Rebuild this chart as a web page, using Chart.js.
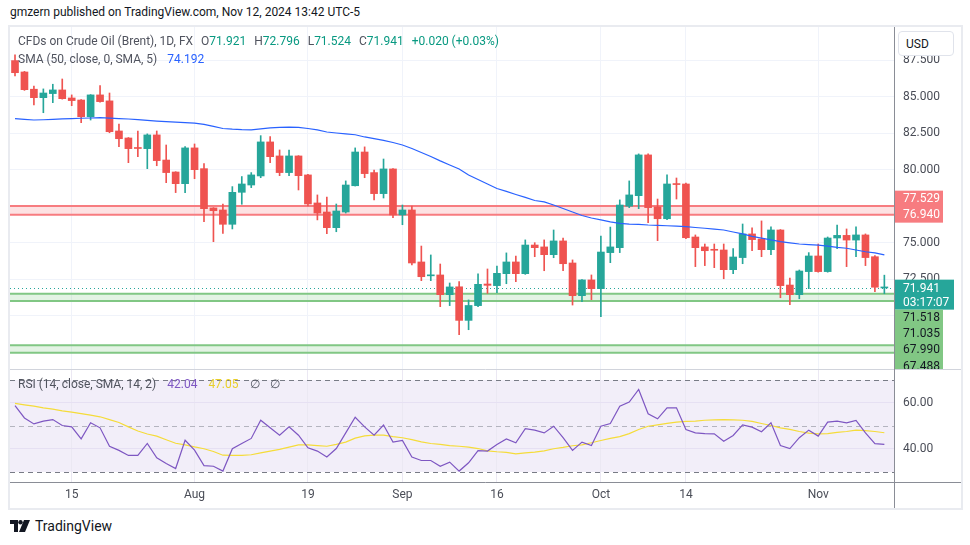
<!DOCTYPE html>
<html>
<head>
<meta charset="utf-8">
<script src="https://cdn.jsdelivr.net/npm/chart.js@4.4.1/dist/chart.umd.min.js"></script>
<style>
  body { margin: 0; background: #fff; width: 970px; height: 545px; position: relative; overflow: hidden; font-family: Roboto, "Noto Sans", sans-serif; }
  .abs { position: absolute; }
  #header { left: 10px; top: 5px; font-size: 12px; color: #131722; white-space: nowrap; }
  #frame { left: 8px; top: 25px; width: 951px; height: 481px; border: 2px solid #e9ebf0; }
  #mainWrap { left: 10px; top: 27px; width: 951px; height: 342px; }
  #rsiWrap { left: 10px; top: 369px; width: 951px; height: 139px; }
  .legend { font-size: 12px; color: #50535e; white-space: nowrap; }
  .legend span { margin-left: 5px; }
  .legend span:first-child { margin-left: 0; }
  .teal { color: #089981; }
  #usd { left: 898px; top: 31px; width: 56px; height: 25px; border: 1px solid #e0e3eb; border-radius: 4px; background: #fff; font-size: 12px; color: #131722; line-height: 25px; box-sizing: border-box; padding-left: 7px; }
  #footer { left: 10px; top: 518px; font-size: 14px; color: #131722; display: flex; align-items: center; }
  #footer svg { margin-right: 5px; }
</style>
</head>
<body>
<div id="header" class="abs">gmzern published on TradingView.com, Nov 12, 2024 13:42 UTC-5</div>
<div id="frame" class="abs"></div>
<div id="mainWrap" class="abs"><canvas id="mainChart" width="951" height="342"></canvas></div>
<div id="rsiWrap" class="abs"><canvas id="rsiChart" width="951" height="139"></canvas></div>

<div class="abs legend" style="left:18px; top:34px;">
  <span>CFDs on Crude Oil (Brent), 1D, FX</span>
  <span>O<span class="teal" style="margin-left:0">71.921</span></span>
  <span>H<span class="teal" style="margin-left:0">72.796</span></span>
  <span>L<span class="teal" style="margin-left:0">71.524</span></span>
  <span>C<span class="teal" style="margin-left:0">71.941</span></span>
  <span class="teal">+0.020 (+0.03%)</span>
</div>
<div class="abs legend" style="left:18px; top:52px;">
  <span>SMA (50, close, 0, SMA, 5)</span>
  <span style="color:#2962ff; margin-left:7px">74.192</span>
</div>
<div class="abs legend" style="left:18px; top:377px;">
  <span>RSI (14, close, SMA, 14, 2)</span>
  <span style="color:#7e57c2; margin-left:8px">42.04</span>
  <span style="color:#e8cf2c; margin-left:8px">47.05</span>
  <span style="margin-left:8px">∅</span>
  <span style="margin-left:8px">∅</span>
</div>
<div id="usd" class="abs">USD</div>

<div id="footer" class="abs">
  <svg width="20" height="12" viewBox="0 0 20 12">
    <path d="M0 0h8v12H4V4H0z" fill="#131722"/>
    <circle cx="10.5" cy="2.2" r="2.2" fill="#131722"/>
    <path d="M14 0h6l-5 12h-6z" fill="#131722"/>
  </svg>
  <span>TradingView</span>
</div>

<script>
// daily candles, Jul 5 – Nov 12 2024 (index = trading day)
const opens = [87.49,86.71,85.53,84.95,85.23,85.48,84.93,84.79,83.65,85.14,84.73,82.67,82.19,81.50,81.46,82.40,80.68,79.86,79.06,81.51,80.09,77.40,77.26,76.28,78.47,78.97,79.59,81.92,80.96,79.82,80.96,79.66,77.74,77.12,76.05,77.12,78.92,81.23,79.82,78.38,80.07,76.92,77.26,73.70,72.75,72.81,71.46,72.00,69.70,70.71,72.19,72.08,72.90,73.70,72.90,74.86,74.73,74.20,75.14,73.63,71.39,72.47,71.87,74.34,74.68,77.52,78.24,81.03,77.47,76.66,79.06,79.04,75.41,74.73,74.55,74.52,73.17,74.00,75.62,75.27,74.54,75.89,72.12,71.46,73.04,74.11,73.04,75.34,75.52,75.20,75.55,74.06,71.921];
const highs = [87.88,86.75,85.75,85.55,85.87,86.23,85.14,84.82,85.16,85.77,85.27,83.15,82.22,82.67,82.47,82.67,81.71,79.88,81.60,81.78,80.43,77.42,77.67,78.86,79.55,79.82,82.35,82.28,81.37,81.37,80.98,79.70,78.29,78.15,77.67,79.25,81.51,81.58,80.00,80.75,80.10,77.60,77.53,74.79,74.18,73.56,72.26,72.35,71.10,72.88,73.22,73.42,74.32,74.11,75.21,75.02,75.21,75.89,75.34,73.84,72.50,72.81,75.48,76.09,77.95,79.25,81.10,81.10,78.01,79.66,79.45,79.10,75.55,74.93,74.93,74.93,74.61,76.30,76.03,76.51,76.10,75.92,72.60,73.15,74.34,74.93,75.41,76.23,75.96,76.10,75.62,74.13,72.796];
const lows = [86.44,85.45,84.45,83.92,84.61,84.85,84.40,83.24,83.42,84.65,82.55,81.60,80.50,80.91,80.09,80.29,79.13,78.45,78.45,79.40,76.46,75.09,75.66,75.96,77.65,78.79,79.47,80.50,79.61,79.61,78.63,77.53,76.58,75.64,75.77,77.05,78.90,79.47,77.95,78.08,76.73,76.25,73.49,72.42,72.42,70.64,70.71,68.72,69.06,70.64,71.55,71.60,72.21,72.35,72.85,74.06,73.10,73.99,73.10,70.75,70.98,71.12,69.95,73.65,74.34,77.42,77.35,76.39,75.16,76.60,78.01,75.30,73.38,73.45,73.31,72.55,72.90,73.58,74.47,74.06,74.20,71.25,70.77,71.18,71.87,73.00,73.00,74.61,73.38,74.06,73.45,71.66,71.524];
const closes = [86.66,85.50,84.95,85.27,85.48,84.88,84.75,83.65,85.14,84.68,82.62,82.14,81.46,81.47,82.40,80.64,79.82,79.06,81.51,80.02,77.35,77.21,76.28,78.47,79.04,79.66,81.92,80.91,79.82,80.96,79.61,77.67,77.05,76.05,77.19,78.97,81.23,79.75,78.38,80.07,76.92,77.26,73.63,72.69,72.80,71.46,71.99,69.70,70.72,72.17,72.10,72.92,73.70,72.90,74.86,74.68,74.20,75.14,73.58,71.39,72.47,71.87,74.38,74.73,77.60,78.29,81.03,77.42,76.66,79.04,79.00,75.36,74.68,74.47,74.50,73.17,74.04,75.62,75.23,74.54,75.89,72.08,71.46,73.08,74.11,73.04,75.34,75.52,75.20,75.55,74.00,71.97,71.941];
const sma50 = [83.51,83.46,83.42,83.44,83.47,83.50,83.52,83.54,83.56,83.58,83.55,83.52,83.49,83.45,83.40,83.35,83.31,83.27,83.24,83.21,83.12,82.98,82.84,82.79,82.76,82.75,82.81,82.88,82.92,82.93,82.92,82.84,82.74,82.60,82.53,82.47,82.41,82.26,82.14,82.03,81.88,81.71,81.47,81.20,80.92,80.62,80.34,80.07,79.66,79.35,79.04,78.73,78.53,78.32,78.12,77.91,77.81,77.60,77.36,77.12,76.88,76.71,76.58,76.44,76.34,76.29,76.27,76.23,76.21,76.18,76.15,76.12,76.06,76.01,75.95,75.89,75.75,75.62,75.45,75.33,75.21,75.09,75.01,74.93,74.89,74.85,74.78,74.70,74.64,74.52,74.40,74.32,74.19];
const rsi = [58.9,53.5,50.9,52.1,52.8,50.2,49.6,44.4,51.4,49.2,41.2,39.4,37.2,37.2,42.4,36.2,33.7,31.5,43.8,39.5,32.8,32.5,30.4,40.1,42.4,44.6,52.5,49.2,46.0,49.6,46.0,40.5,39.1,36.5,40.2,47.0,53.8,49.6,46.0,50.4,43.0,43.7,36.5,35.0,35.0,32.5,34.3,30.4,34.0,39.3,39.1,42.0,44.4,42.7,48.8,48.2,47.0,49.9,44.9,39.4,43.0,41.5,49.9,51.1,58.6,60.4,65.9,55.3,53.1,57.9,57.9,48.5,47.0,46.7,46.6,43.4,45.9,50.5,49.5,47.5,51.4,41.5,40.2,44.9,48.2,45.6,51.7,52.1,51.4,52.4,47.0,42.3,42.04];
const rsiSma = [59.8,59.2,58.6,57.9,57.3,56.6,56.0,55.4,54.7,54.0,52.8,51.5,49.6,47.8,46.5,45.6,44.0,42.5,41.8,40.9,40.1,38.9,37.3,37.2,37.2,37.5,38.3,39.1,39.8,40.8,41.8,41.8,41.5,41.2,42.0,43.0,44.7,45.7,46.0,46.0,45.4,44.9,44.1,43.1,42.4,42.0,41.5,41.2,40.8,40.2,39.2,38.8,38.5,37.9,38.3,38.6,39.2,40.1,40.7,41.4,41.8,42.7,43.7,44.6,45.4,46.7,48.5,49.9,50.5,51.1,51.7,52.0,52.1,52.5,52.7,52.8,52.7,52.5,52.0,51.1,50.2,49.2,48.5,47.6,46.9,46.6,46.7,47.2,47.6,48.2,48.0,47.6,47.05];

// time axis
const tickIndex = [6, 19, 31, 41, 51, 62, 71, 85];
const tickLabels = ['15', 'Aug', '19', 'Sep', '16', 'Oct', '14', 'Nov'];
const priceTicks = [67.5, 70, 72.5, 75, 77.5, 80, 82.5, 85, 87.5];
const rsiTicks = [40, 60];

// drawn levels
const resistZone = [77.529, 76.940];
const supportZone1 = [71.518, 71.035];
const supportZone2 = [67.990, 67.488];
const lastPrice = 71.941;
const countdown = '03:17:07';

const UP = '#26a69a', DOWN = '#ef5350';
const AXIS_W = 67;
const X_MIN = -0.53, X_MAX = 93.02;

Chart.defaults.font.family = 'Roboto, "Noto Sans", sans-serif';
Chart.defaults.font.size = 12;
Chart.defaults.color = '#4a4d57';

const candleColors = closes.map((c, i) => c >= opens[i] ? UP : DOWN);

function fmt3(v) { return v.toFixed(3); }

// fixed-width right axis, no label padding eating the pane height
function fitRight(s) {
  s.width = AXIS_W;
  s.paddingTop = 0;
  s.paddingBottom = 0;
}

const zonesPlugin = {
  id: 'zones',
  beforeDatasetsDraw(chart) {
    const { ctx, chartArea: a, scales: { y } } = chart;
    ctx.save();
    const zone = (pair, fill, line) => {
      const y1 = y.getPixelForValue(pair[0]), y2 = y.getPixelForValue(pair[1]);
      ctx.fillStyle = fill;
      ctx.fillRect(a.left, y1, a.right - a.left, y2 - y1);
      ctx.strokeStyle = line;
      ctx.lineWidth = 2;
      [y1, y2].forEach(p => {
        ctx.beginPath(); ctx.moveTo(a.left, p); ctx.lineTo(a.right, p); ctx.stroke();
      });
    };
    zone(resistZone, 'rgba(247,124,128,0.22)', '#f77c80');
    zone(supportZone1, 'rgba(129,199,132,0.22)', '#81c784');
    zone(supportZone2, 'rgba(129,199,132,0.22)', '#81c784');
    // last price dotted line
    const py = Math.round(y.getPixelForValue(lastPrice)) + 0.5;
    ctx.strokeStyle = UP; ctx.lineWidth = 1; ctx.setLineDash([1, 3]);
    ctx.beginPath(); ctx.moveTo(a.left, py); ctx.lineTo(a.right, py); ctx.stroke();
    ctx.restore();
  },
  afterDraw(chart) {
    const { ctx, chartArea: a, scales: { y }, height } = chart;
    ctx.save();
    // price axis border
    ctx.strokeStyle = '#8a8d96'; ctx.lineWidth = 1;
    ctx.beginPath(); ctx.moveTo(a.right + 0.5, 0); ctx.lineTo(a.right + 0.5, height); ctx.stroke();

    ctx.font = '12px Roboto, "Noto Sans", sans-serif';
    ctx.textBaseline = 'middle';
    const x0 = a.right + 1, tx = a.right + 9;
    // resistance labels (stacked upwards)
    const rb = y.getPixelForValue(resistZone[1]);
    ctx.fillStyle = '#f77c80';
    ctx.fillRect(x0, rb - 24, 48, 32);
    ctx.fillStyle = '#fff';
    ctx.fillText(fmt3(resistZone[0]), tx, rb - 16);
    ctx.fillText(fmt3(resistZone[1]), tx, rb);
    // last price + countdown
    const lp = y.getPixelForValue(lastPrice);
    ctx.fillStyle = UP;
    ctx.fillRect(x0, lp - 8, 59, 30);
    ctx.fillStyle = '#fff';
    ctx.fillText(fmt3(lastPrice), tx, lp + 1);
    ctx.fillText(countdown, tx, lp + 15);
    // support labels stacked below
    const gTop = lp + 22;
    ctx.fillStyle = '#81c784';
    ctx.fillRect(x0, gTop, 48, height - gTop);
    ctx.fillStyle = '#131722';
    [supportZone1[0], supportZone1[1], supportZone2[0], supportZone2[1]].forEach((v, k) => {
      ctx.fillText(fmt3(v), tx, gTop + 8 + k * 16.4);
    });
    ctx.restore();
  }
};

new Chart(document.getElementById('mainChart'), {
  type: 'bar',
  data: {
    datasets: [
      {
        type: 'line',
        data: sma50.map((v, i) => ({ x: i, y: v })),
        borderColor: '#2962ff',
        borderWidth: 1.2,
        pointRadius: 0,
        order: 0
      },
      {
        data: lows.map((l, i) => ({ x: i, y: [l, highs[i]] })),
        backgroundColor: candleColors,
        barThickness: 1,
        grouped: false,
        order: 2
      },
      {
        data: opens.map((o, i) => ({ x: i, y: [o, closes[i]] })),
        backgroundColor: candleColors,
        barThickness: 7,
        minBarLength: 1,
        grouped: false,
        order: 1
      }
    ]
  },
  options: {
    responsive: false,
    animation: false,
    events: [],
    layout: { padding: 0 },
    plugins: { legend: { display: false }, tooltip: { enabled: false } },
    scales: {
      x: {
        type: 'linear',
        min: X_MIN,
        max: X_MAX,
        offset: false,
        grid: { color: '#f0f3fa', drawTicks: false, offset: false },
        border: { display: false },
        ticks: { display: false },
        afterBuildTicks: s => { s.ticks = tickIndex.map(v => ({ value: v })); },
        afterFit: s => { s.height = 0; s.paddingLeft = 0; s.paddingRight = 0; }
      },
      y: {
        position: 'right',
        min: 66.37,
        max: 89.79,
        grid: { color: '#f0f3fa', drawTicks: false },
        border: { display: false },
        ticks: { padding: 9, callback: v => v.toFixed(3), color: '#4a4d57' },
        afterBuildTicks: s => { s.ticks = priceTicks.map(v => ({ value: v })); },
        afterFit: fitRight
      }
    }
  },
  plugins: [zonesPlugin]
});

const rsiPlugin = {
  id: 'rsiBands',
  beforeDraw(chart) {
    const { ctx, chartArea: a, scales: { y } } = chart;
    const t = y.getPixelForValue(70), b = y.getPixelForValue(30);
    ctx.save();
    ctx.fillStyle = 'rgba(126,87,194,0.1)';
    ctx.fillRect(a.left, t, a.right - a.left, b - t);
    ctx.restore();
  },
  beforeDatasetsDraw(chart) {
    const { ctx, chartArea: a, scales: { y } } = chart;
    ctx.save();
    ctx.lineWidth = 1;
    ctx.setLineDash([5, 4]);
    [[70, '#787b86'], [50, 'rgba(120,123,134,0.5)'], [30, '#787b86']].forEach(([v, c]) => {
      const p = Math.round(y.getPixelForValue(v)) + 0.5;
      ctx.strokeStyle = c;
      ctx.beginPath(); ctx.moveTo(a.left, p); ctx.lineTo(a.right, p); ctx.stroke();
    });
    ctx.restore();
  },
  afterDraw(chart) {
    const { ctx, chartArea: a, width, height } = chart;
    ctx.save();
    ctx.lineWidth = 1;
    ctx.strokeStyle = '#d1d4dc';
    ctx.beginPath(); ctx.moveTo(0, 0.5); ctx.lineTo(width, 0.5); ctx.stroke();
    ctx.strokeStyle = '#8a8d96';
    ctx.beginPath(); ctx.moveTo(0, a.bottom + 0.5); ctx.lineTo(width, a.bottom + 0.5); ctx.stroke();
    ctx.beginPath(); ctx.moveTo(a.right + 0.5, 0); ctx.lineTo(a.right + 0.5, height); ctx.stroke();
    ctx.restore();
  }
};

new Chart(document.getElementById('rsiChart'), {
  type: 'line',
  data: {
    datasets: [
      {
        data: rsi.map((v, i) => ({ x: i, y: v })),
        borderColor: '#7e57c2',
        borderWidth: 1.2,
        pointRadius: 0
      },
      {
        data: rsiSma.map((v, i) => ({ x: i, y: v })),
        borderColor: '#f5dc3a',
        borderWidth: 1.2,
        pointRadius: 0
      }
    ]
  },
  options: {
    responsive: false,
    animation: false,
    events: [],
    layout: { padding: 0 },
    plugins: { legend: { display: false }, tooltip: { enabled: false } },
    scales: {
      x: {
        type: 'linear',
        min: X_MIN,
        max: X_MAX,
        grid: { color: '#ebe8f3', drawTicks: false },
        border: { display: false },
        ticks: {
          padding: 6,
          autoSkip: false,
          maxRotation: 0,
          color: '#4a4d57',
          callback: (v, i) => tickLabels[i]
        },
        afterBuildTicks: s => { s.ticks = tickIndex.map(v => ({ value: v })); },
        afterFit: s => { s.height = 26; s.paddingLeft = 0; s.paddingRight = 0; }
      },
      y: {
        position: 'right',
        min: 25.65,
        max: 74.78,
        grid: { color: '#e6e0f3', drawTicks: false },
        border: { display: false },
        ticks: { padding: 9, callback: v => v.toFixed(2), color: '#4a4d57' },
        afterBuildTicks: s => { s.ticks = rsiTicks.map(v => ({ value: v })); },
        afterFit: fitRight
      }
    }
  },
  plugins: [rsiPlugin]
});
</script>
</body>
</html>
